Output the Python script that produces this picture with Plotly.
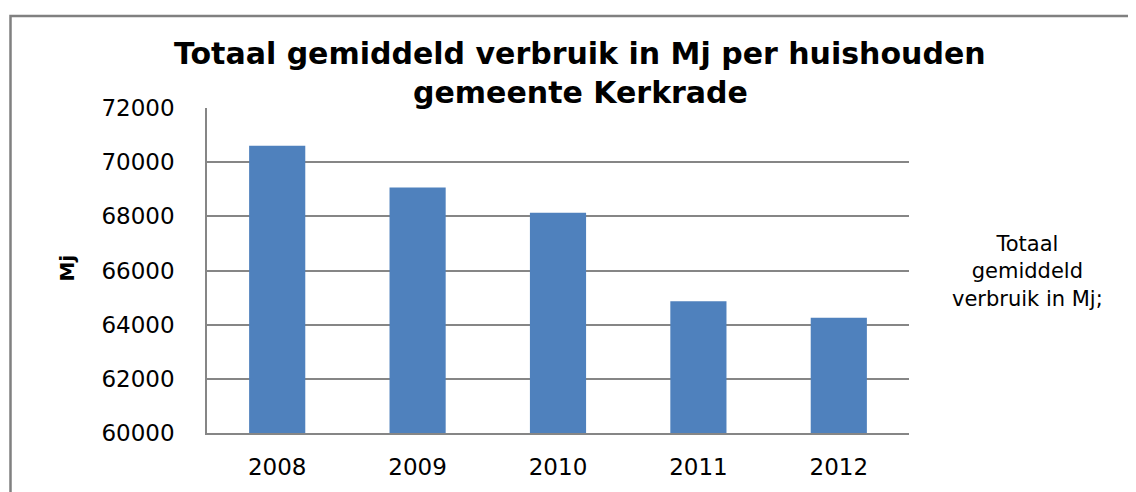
import plotly.graph_objects as go

years = ["2008", "2009", "2010", "2011", "2012"]
verbruik = [70610, 69066, 68133, 64865, 64255]
y_ticks = [60000, 62000, 64000, 66000, 68000, 70000, 72000]
title_line1 = "Totaal gemiddeld verbruik in Mj per huishouden"
title_line2 = "gemeente Kerkrade"
legend_text = "Totaal<br>gemiddeld<br>verbruik in Mj;"
y_title = "Mj"

# page body has an 8px margin; compensate so the plot lands at the reference pixels
OFF = 8
W, H = 1136 - OFF, 492 - OFF
L, R, T, B = 207 - OFF, 227, 108 - OFF, 50
pw, ph = W - L - R, H - T - B

def px_x(px):
    return (px - OFF - L) / pw

def px_y(py):
    return (H - B - (py - OFF)) / ph

fig = go.Figure()
fig.add_trace(go.Bar(
    x=years, y=verbruik, marker=dict(color="#4F81BD", line=dict(width=0)),
    name="Totaal gemiddeld verbruik in Mj;", showlegend=False,
))

grid = "#868686"
tick_font = dict(size=23, family="DejaVu Sans", color="black")
fig.update_layout(
    width=W, height=H,
    margin=dict(l=L, r=R, t=T, b=B),
    paper_bgcolor="white", plot_bgcolor="white",
    bargap=0.6,
    font=dict(family="DejaVu Sans", color="black"),
    xaxis=dict(
        showline=True, linecolor=grid, linewidth=1.5,
        showgrid=False, tickfont=tick_font,
        ticks="", ticklabelstandoff=13,
    ),
    yaxis=dict(
        range=[60000, 72000], tickvals=y_ticks,
        ticktext=[str(v) for v in y_ticks],
        showgrid=True, gridcolor=grid, gridwidth=1.5,
        showline=True, linecolor=grid, linewidth=1.5,
        zeroline=False,
        tickfont=tick_font,
        ticks="", ticklabelstandoff=26,
    ),
    shapes=[dict(
        type="rect", xref="paper", yref="paper",
        x0=px_x(10.5), x1=px_x(1160), y0=px_y(13.5), y1=px_y(520),
        line=dict(color="#808080", width=2.5), fillcolor="rgba(0,0,0,0)", layer="below",
    )],
    annotations=[
        dict(text="<b>" + title_line1 + "</b>", xref="paper", yref="paper",
             x=px_x(580), y=px_y(52), xanchor="center", yanchor="middle",
             showarrow=False, font=dict(size=30, family="DejaVu Sans", color="black")),
        dict(text="<b>" + title_line2 + "</b>", xref="paper", yref="paper",
             x=px_x(580), y=px_y(92), xanchor="center", yanchor="middle",
             showarrow=False, font=dict(size=30, family="DejaVu Sans", color="black")),
        dict(text=legend_text, xref="paper", yref="paper",
             x=px_x(1028), y=px_y(276), xanchor="center", yanchor="middle",
             align="center", showarrow=False,
             font=dict(size=21, family="DejaVu Sans", color="black")),
        dict(text="<b>" + y_title + "</b>", xref="paper", yref="paper",
             x=px_x(67), y=px_y(273), xanchor="center", yanchor="middle",
             textangle=-90, showarrow=False,
             font=dict(size=20, family="DejaVu Sans", color="black")),
    ],
)

fig.write_html("out.html")
